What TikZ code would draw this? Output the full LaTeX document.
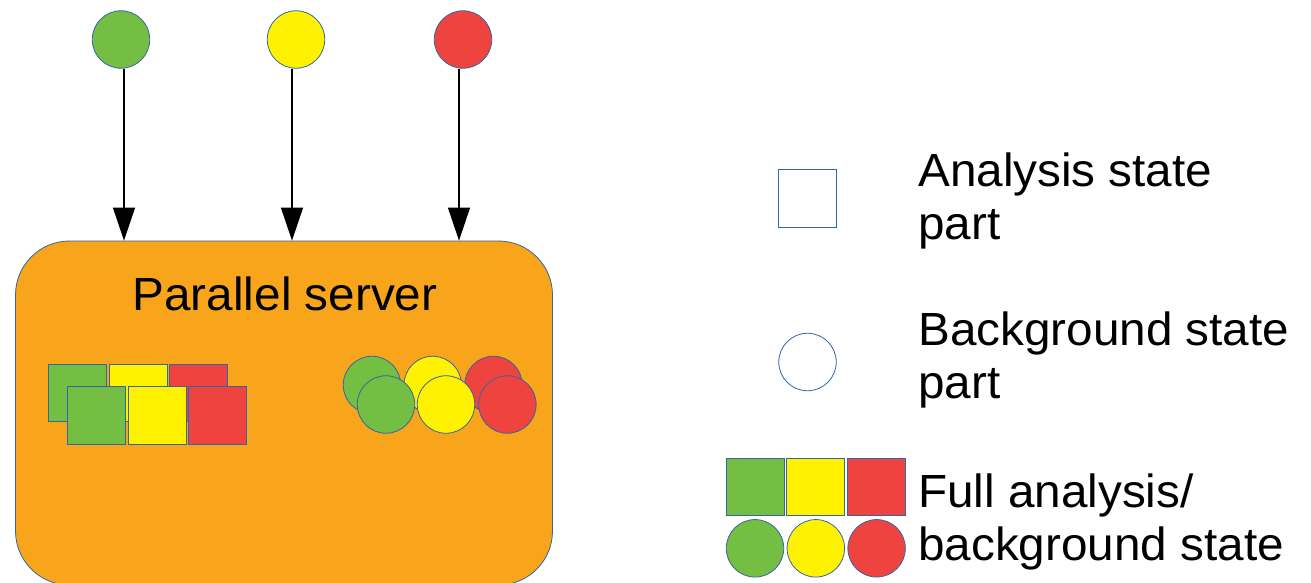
\documentclass[tikz,border=0pt]{standalone}
\usepackage{fontspec}
\setmainfont[FakeStretch=1.025]{Liberation Sans}
\usetikzlibrary{arrows.meta}
\definecolor{edge}{HTML}{3465A4}
\definecolor{cgreen}{HTML}{74BE43}
\definecolor{cyellow}{HTML}{FFF200}
\definecolor{cred}{HTML}{EF4340}
\definecolor{corange}{HTML}{F8A51B}
\tikzset{
  ball/.style={circle, draw=edge, line width=0.8pt, inner sep=0pt, minimum size=57.5pt},
  tile/.style={rectangle, draw=edge, line width=0.8pt, inner sep=0pt, minimum width=58pt, minimum height=57.5pt},
  feed/.style={draw=black, line width=1.2pt, -{Triangle[width=22pt,length=33pt]}},
  bigtext/.style={inner sep=0pt, align=left, font=\fontsize{46.5}{53}\selectfont},
}
\begin{document}
\begin{tikzpicture}[x=1pt,y=-1pt]
\useasboundingbox (0,0) rectangle (1311,582);

% incoming parts
\node[ball, fill=cgreen]  (ing) at (121,39.5) {};
\node[ball, fill=cyellow] (iny) at (296,39.5) {};
\node[ball, fill=cred]    (inr) at (463,39.5) {};

% the server
\node[draw=edge, line width=0.8pt, fill=corange, rounded corners=54pt,
      minimum width=537pt, minimum height=344pt, inner sep=0pt] (server) at (284,413) {};
\node[bigtext, anchor=base] (title) at (285,310) {Parallel server};

% connectors
\draw[feed] ([xshift=3pt]ing.south) -- ([xshift=3pt]ing.south |- server.north);
\draw[feed] ([xshift=-4pt]iny.south) -- ([xshift=-4pt]iny.south |- server.north);
\draw[feed] ([xshift=-4pt]inr.south) -- ([xshift=-4pt]inr.south |- server.north);

% analysis state parts, two layers
\node[tile, fill=cgreen]  (sq1) at (77,393) {};
\node[tile, fill=cyellow] (sq2) at (138,393) {};
\node[tile, fill=cred]    (sq3) at (198.5,393) {};
\node[tile, fill=cgreen]  (sq4) at (96,415.5) {};
\node[tile, fill=cyellow] (sq5) at (157,415.5) {};
\node[tile, fill=cred]    (sq6) at (217.5,415.5) {};

% background state parts, two layers
\node[ball, fill=cgreen]  (bc1) at (372,385) {};
\node[ball, fill=cyellow] (bc2) at (432.7,385) {};
\node[ball, fill=cred]    (bc3) at (493.5,385) {};
\node[ball, fill=cgreen]  (bc4) at (386,404.5) {};
\node[ball, fill=cyellow] (bc5) at (446,404.5) {};
\node[ball, fill=cred]    (bc6) at (507.4,404.5) {};

% legend (each text node is placed by the baseline of its last line)
\node[tile, fill=white] (lsq) at (807.5,198.3) {};
\node[bigtext, anchor=base west] (lsqt) at (918,239) {Analysis state\\part};

\node[ball, fill=white] (lci) at (807.5,362) {};
\node[bigtext, anchor=base west] (lcit) at (918,398) {Background state\\part};

\node[tile, fill=cgreen]  (lf1) at (755,487) {};
\node[tile, fill=cyellow] (lf2) at (815.8,487) {};
\node[tile, fill=cred]    (lf3) at (876.6,487) {};
\node[ball, fill=cgreen]  (lf4) at (755,548.3) {};
\node[ball, fill=cyellow] (lf5) at (815.8,548.3) {};
\node[ball, fill=cred]    (lf6) at (876.6,548.3) {};
\node[bigtext, anchor=base west] (lft) at (918,560) {Full analysis/\\background state};
\end{tikzpicture}
\end{document}
